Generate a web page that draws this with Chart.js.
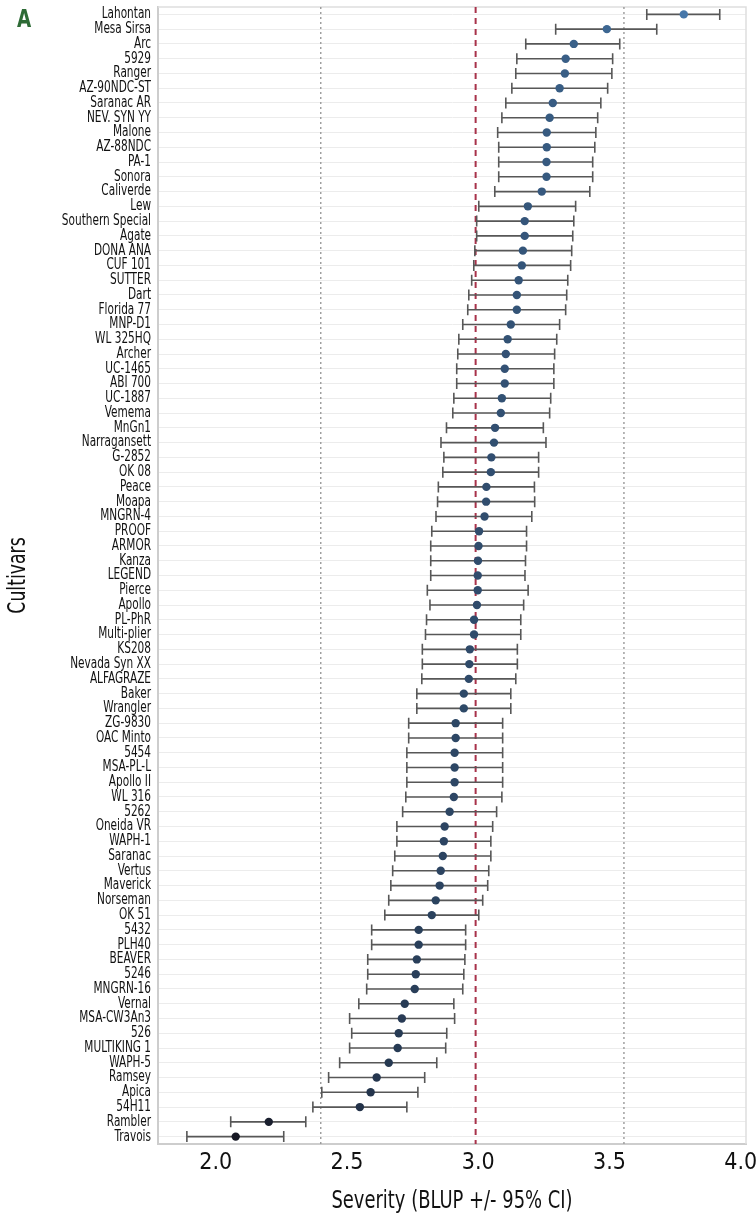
<!DOCTYPE html>
<html><head><meta charset="utf-8">
<script src="https://cdn.jsdelivr.net/npm/chart.js@4.4.0/dist/chart.umd.min.js"></script>
<style>html,body{margin:0;padding:0;background:#fff;}#wrap{width:756px;height:1216px;}</style>
</head><body><div id="wrap"><canvas id="c" width="756" height="1216"></canvas></div>
<script>
const cultivars = ["Lahontan","Mesa Sirsa","Arc","5929","Ranger","AZ-90NDC-ST","Saranac AR","NEV. SYN YY","Malone","AZ-88NDC","PA-1","Sonora","Caliverde",
"Lew","Southern Special","Agate","DONA ANA","CUF 101","SUTTER","Dart","Florida 77","MNP-D1","WL 325HQ","Archer","UC-1465","ABI 700","UC-1887","Vemema",
"MnGn1","Narragansett","G-2852","OK 08","Peace","Moapa","MNGRN-4","PROOF","ARMOR","Kanza","LEGEND","Pierce","Apollo","PL-PhR","Multi-plier","KS208","Nevada Syn XX",
"ALFAGRAZE","Baker","Wrangler","ZG-9830","OAC Minto","5454","MSA-PL-L","Apollo II","WL 316","5262","Oneida VR","WAPH-1","Saranac","Vertus","Maverick","Norseman","OK 51",
"5432","PLH40","BEAVER","5246","MNGRN-16","Vernal","MSA-CW3An3","526","MULTIKING 1","WAPH-5","Ramsey","Apica","54H11","Rambler","Travois"];
const blup = [3.783,3.490,3.364,3.333,3.330,3.310,3.284,3.272,3.261,3.261,3.260,3.260,3.242,
3.189,3.177,3.177,3.170,3.166,3.154,3.147,3.147,3.124,3.112,3.105,3.101,3.101,3.090,3.086,
3.064,3.060,3.050,3.048,3.031,3.030,3.024,3.003,3.001,2.999,2.998,2.998,2.995,2.984,2.984,2.968,2.966,
2.964,2.945,2.945,2.914,2.914,2.910,2.910,2.910,2.907,2.891,2.872,2.869,2.865,2.857,2.853,2.838,2.823,
2.773,2.773,2.766,2.762,2.758,2.720,2.709,2.697,2.693,2.659,2.613,2.590,2.549,2.202,2.076];
const ciLow = [3.642,3.295,3.181,3.147,3.143,3.128,3.105,3.090,3.074,3.078,3.078,3.078,3.063,
3.002,2.994,2.994,2.987,2.983,2.975,2.964,2.960,2.941,2.926,2.922,2.918,2.918,2.907,2.903,
2.879,2.858,2.869,2.865,2.848,2.845,2.839,2.823,2.819,2.819,2.819,2.806,2.816,2.803,2.799,2.787,2.787,
2.785,2.766,2.766,2.735,2.735,2.728,2.728,2.728,2.724,2.712,2.690,2.690,2.682,2.674,2.667,2.659,2.644,
2.594,2.594,2.579,2.579,2.575,2.545,2.510,2.518,2.510,2.472,2.430,2.404,2.370,2.057,1.890];
const ciHigh = [3.920,3.680,3.539,3.512,3.509,3.493,3.467,3.455,3.448,3.444,3.436,3.436,3.425,
3.371,3.364,3.360,3.356,3.352,3.341,3.337,3.333,3.310,3.299,3.291,3.288,3.288,3.276,3.272,
3.248,3.258,3.230,3.230,3.214,3.215,3.204,3.184,3.184,3.180,3.178,3.190,3.173,3.162,3.162,3.149,3.149,
3.143,3.124,3.124,3.093,3.093,3.093,3.093,3.093,3.090,3.070,3.055,3.048,3.048,3.040,3.036,3.017,3.002,
2.952,2.952,2.949,2.945,2.941,2.907,2.910,2.880,2.876,2.842,2.796,2.770,2.728,2.343,2.259];
const xTicks = [2.0, 2.5, 3.0, 3.5, 4.0];
const meanLine = 2.99;
const lowerRef = 2.40;
const upperRef = 3.555;
const xMin = 1.78, xMax = 4.02;

const F = '"Liberation Sans Narrow","DejaVu Sans Condensed","Open Sans",sans-serif';
function pointColor(v){
  const t = Math.max(0, Math.min(1, (v - 2.0) / 1.8));
  const a=[20,20,30], b=[70,120,170];
  return 'rgb(' + a.map((c,k)=>Math.round(c + (b[k]-c)*t)).join(',') + ')';
}

function squeeze(ctx, ax, ay, sx, sy, fn){
  ctx.save(); ctx.translate(ax, ay); ctx.scale(sx, sy); ctx.translate(-ax, -ay); fn(); ctx.restore();
}

const overlay = {
  id:'overlay',
  beforeDraw(chart){
    const x = chart.scales.x, y = chart.scales.y, ctx = chart.ctx;
    if (!y._sq) {
      const dl = y.drawLabels.bind(y), dt = y.drawTitle.bind(y);
      y.drawLabels = (a)=>squeeze(ctx, y.right - 7, 0, 0.78, 1, ()=>dl(a));
      y.drawTitle = ()=>squeeze(ctx, 0, (y.top + y.bottom)/2, 1, 0.8, ()=>dt());
      y._sq = true;
    }
    if (!x._sq) {
      const dt = x.drawTitle.bind(x);
      x.drawTitle = ()=>squeeze(ctx, (x.left + x.right)/2, 0, 0.83, 1, ()=>dt());
      x._sq = true;
    }
  },
  beforeDatasetsDraw(chart){
    const {ctx, scales:{x,y}, chartArea:ca} = chart;
    ctx.save();
    ctx.strokeStyle='#dedede'; ctx.lineWidth=1.5;
    ctx.beginPath(); ctx.moveTo(ca.left, ca.top); ctx.lineTo(ca.right, ca.top); ctx.lineTo(ca.right, ca.bottom); ctx.stroke();
    ctx.lineWidth=1.4; ctx.strokeStyle='#9a9a9a'; ctx.setLineDash([2,3]);
    [lowerRef, upperRef].forEach(v=>{const px=x.getPixelForValue(v); ctx.beginPath(); ctx.moveTo(px,ca.top); ctx.lineTo(px,ca.bottom); ctx.stroke();});
    ctx.lineWidth=2; ctx.strokeStyle='#a8324a'; ctx.setLineDash([6,5]);
    {const px=x.getPixelForValue(meanLine); ctx.beginPath(); ctx.moveTo(px,ca.top); ctx.lineTo(px,ca.bottom); ctx.stroke();}
    ctx.setLineDash([]);
    ctx.strokeStyle='#575757'; ctx.lineWidth=1.6;
    cultivars.forEach((c,i)=>{
      const yy=y.getPixelForValue(i), x1=x.getPixelForValue(ciLow[i]), x2=x.getPixelForValue(ciHigh[i]);
      ctx.beginPath();
      ctx.moveTo(x1,yy); ctx.lineTo(x2,yy);
      ctx.moveTo(x1,yy-5.5); ctx.lineTo(x1,yy+5.5);
      ctx.moveTo(x2,yy-5.5); ctx.lineTo(x2,yy+5.5);
      ctx.stroke();
    });
    ctx.restore();
  },
  afterDraw(chart){
    const ctx=chart.ctx; ctx.save();
    ctx.font='bold 24px '+F; ctx.fillStyle='#2e6b36'; ctx.textAlign='center'; ctx.textBaseline='middle';
    squeeze(ctx, 24, 21, 0.85, 1, ()=>ctx.fillText('A', 24, 21));
    ctx.restore();
  }
};

new Chart(document.getElementById('c'), {
  type:'scatter',
  data:{ datasets:[{
    data: cultivars.map((c,i)=>({x:blup[i], y:c})),
    pointRadius:4.2, pointHoverRadius:4.2, borderWidth:0,
    pointBackgroundColor: blup.map(pointColor), pointBorderColor: blup.map(pointColor)
  }]},
  options:{
    responsive:false, animation:false, devicePixelRatio:1,
    layout:{padding:{left:0,right:10,top:7,bottom:0}},
    plugins:{legend:{display:false}, tooltip:{enabled:false}},
    scales:{
      x:{ type:'linear', min:xMin, max:xMax,
        afterBuildTicks(s){ s.ticks = xTicks.map(v=>({value:v})); },
        grid:{display:false, drawTicks:false},
        border:{display:true, color:'#cdcdcd', width:2},
        ticks:{padding:5, color:'#111', font:{family:F, size:23}, callback:v=>Number(v).toFixed(1)},
        title:{display:true, text:'Severity (BLUP +/- 95% CI)', color:'#111', font:{family:F, size:24}, padding:{top:0,bottom:0}},
        afterFit(s){ s.height = 72; s.paddingLeft = 0; s.paddingRight = 0; }
      },
      y:{ type:'category', labels:cultivars, offset:true,
        grid:{color:'#ececec', lineWidth:1, offset:false, drawTicks:false},
        border:{display:true, color:'#cdcdcd', width:2},
        ticks:{autoSkip:false, padding:7, color:'#111', font:{family:F, size:15}},
        title:{display:true, text:'Cultivars', color:'#111', font:{family:F, size:24}, padding:{top:4,bottom:0}},
        afterFit(s){ s.width = 158; s.paddingTop = 0; s.paddingBottom = 0; }
      }
    }
  },
  plugins:[overlay]
});
</script></body></html>
